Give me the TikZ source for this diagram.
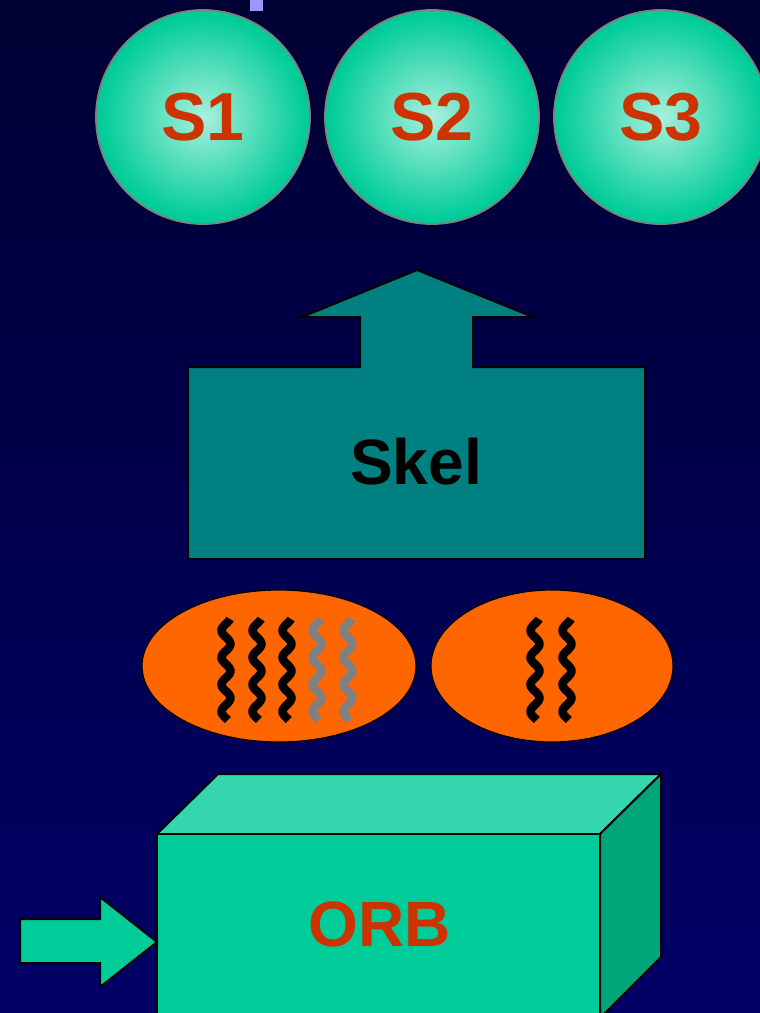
\documentclass[tikz,border=0pt]{standalone}
\usepackage{fontspec}
\setmainfont{Liberation Sans}
\usetikzlibrary{shapes.geometric}

\definecolor{bgTop}{HTML}{000033}
\definecolor{bgBottom}{HTML}{000066}
\definecolor{sphLight}{HTML}{A8F0DC}
\definecolor{sphEdge}{HTML}{00CC99}
\definecolor{labelRed}{HTML}{CC3300}
\definecolor{skelTeal}{HTML}{008080}
\definecolor{podOrange}{HTML}{FF6600}
\definecolor{orbFront}{HTML}{00CC99}
\definecolor{orbTop}{HTML}{33D6AD}
\definecolor{orbSide}{HTML}{00A57A}
\definecolor{markBlue}{HTML}{9999FF}

\pgfdeclareradialshading{sphere}{\pgfpoint{0bp}{0bp}}{%
  color(0bp)=(sphLight); color(24bp)=(sphEdge); color(50bp)=(sphEdge)}

\tikzset{
  servant/.style={circle, minimum size=214pt, inner sep=0pt, draw=gray,
    line width=1.8pt, shading=sphere, text=labelRed,
    font=\fontsize{68}{68}\selectfont\bfseries},
  pod/.style={ellipse, draw=black, line width=1.2pt, fill=podOrange,
    inner sep=0pt},
  thread/.style={line width=8.5pt, line cap=butt, line join=round},
  outline/.style={draw=black, line width=2pt, line join=miter},
  bigword/.style={font=\fontsize{64}{64}\selectfont\bfseries}
}

\begin{document}
\begin{tikzpicture}[x=1pt, y=-1pt]
  \useasboundingbox (0,0) rectangle (760,1013);
  \clip (0,0) rectangle (760,1013);
  % background
  \shade[top color=bgTop, bottom color=bgBottom] (0,0) rectangle (760,1013);

  % small marker at the top edge
  \fill[markBlue] (250,-2) rectangle (263,11);

  % servants
  \node[servant] (s1) at (203,117) {S1};
  \node[servant] (s2) at (432,117) {S2};
  \node[servant] (s3) at (661,117) {S3};

  % skeleton with its upward arrow
  \draw[outline, fill=skelTeal]
    (188,367) -- (360,367) -- (360,317) -- (302,317) -- (417,270)
    -- (533,317) -- (473,317) -- (473,367) -- (645,367)
    -- (645,559) -- (188,559) -- cycle;
  \node[bigword, text=black] (skel) at (416,462) {Skel};

  % thread pools
  \node[pod, minimum width=274pt, minimum height=152pt] (podA) at (279,666) {};
  \node[pod, minimum width=242pt, minimum height=152pt] (podB) at (552,666) {};

  \foreach \cx/\col in {226/black, 257/black, 287/black, 317/gray, 348/gray}{
    \draw[thread, draw=\col] plot[smooth, domain=0:101, samples=70]
      ({\cx + 4.5*sin(13.33*\x + 117)}, {619 + \x});
  }
  \foreach \cx in {535, 567}{
    \draw[thread, draw=black] plot[smooth, domain=0:101, samples=70]
      ({\cx + 4.5*sin(13.33*\x + 117)}, {619 + \x});
  }

  % ORB box
  \draw[outline, fill=orbTop] (157,834) -- (218,774) -- (661,774) -- (600,834) -- cycle;
  \draw[outline, fill=orbSide] (600,834) -- (661,774) -- (661,957) -- (600,1018) -- cycle;
  \draw[outline, fill=orbFront] (157,834) rectangle (600,1030);
  \node[bigword, text=labelRed] (orb) at (380,924) {ORB};

  % incoming request arrow
  \draw[outline, fill=orbFront]
    (20,919) -- (100,919) -- (100,897) -- (157,942) -- (100,987)
    -- (100,963) -- (20,963) -- cycle;
\end{tikzpicture}
\end{document}
